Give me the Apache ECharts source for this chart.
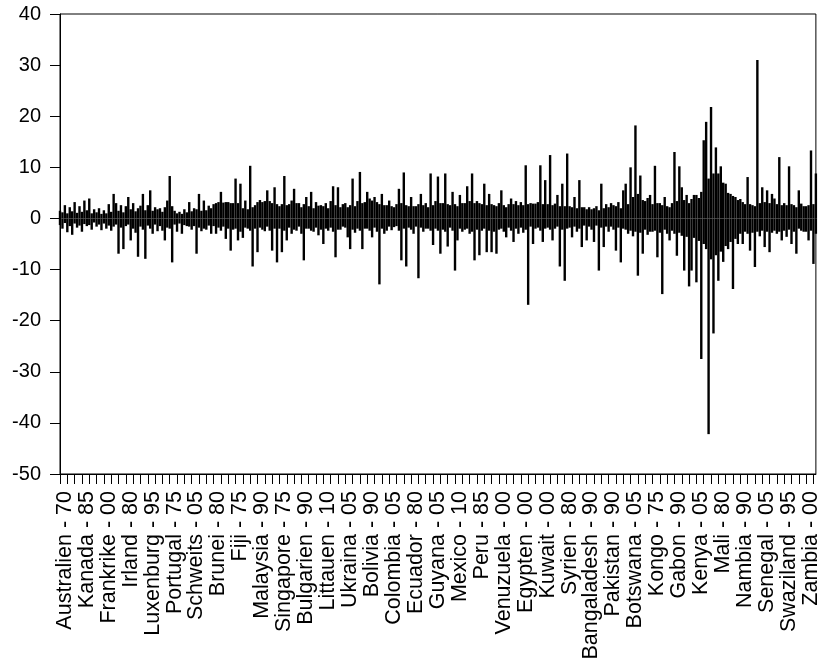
<!DOCTYPE html>
<html>
<head>
<meta charset="utf-8">
<script src="https://cdn.jsdelivr.net/npm/echarts@6/dist/echarts.min.js"></script>
<style>
html,body{margin:0;padding:0;background:#fff;}
#chart{width:822px;height:666px;}
</style>
</head>
<body>
<div id="chart"></div>
<script>
// Tick labels shown on the category axis (one every 9 bins)
const labels = ["Australien - 70","Kanada - 85","Frankrike - 00","Irland - 80","Luxenburg - 95","Portugal - 75","Schweits - 05","Brunei - 80","Fiji - 75","Malaysia - 90","Singapore - 75","Bulgarien - 90","Littauen - 10","Ukraina - 05","Bolivia - 90","Colombia - 05","Ecuador - 80","Guyana - 05","Mexico - 10","Peru - 85","Venuzuela - 00","Egypten - 00","Kuwait - 00","Syrien - 80","Bangaladesh - 90","Pakistan - 90","Botswana - 05","Kongo - 75","Gabon - 90","Kenya - 05","Mali - 80","Nambia - 90","Senegal - 05","Swaziland - 95","Zambia - 00"];

const upper = [
1.5,1.2,2.6,1.0,2.2,1.4,3.2,1.1,2.4,
1.3,3.5,1.6,3.9,1.0,1.8,1.2,2.0,0.9,
1.6,1.0,2.8,1.3,4.8,3.0,1.5,2.6,1.2,
2.4,4.2,1.8,3.0,1.4,2.0,2.5,4.8,1.6,
2.6,5.5,1.5,2.2,1.8,2.0,1.3,2.2,3.5,
8.3,2.4,1.5,1.0,1.3,0.9,1.8,1.2,3.2,
1.4,2.0,1.8,4.8,1.5,3.5,1.6,2.5,2.0,
2.8,3.0,3.2,5.2,3.1,3.2,3.2,3.0,3.0,
7.8,3.0,6.8,2.0,3.5,1.8,10.3,2.2,2.6,
3.2,3.6,3.2,3.4,5.5,3.4,3.0,6.1,2.8,
2.4,2.8,8.3,2.6,2.8,3.5,5.8,3.0,3.0,
2.2,2.8,4.2,2.4,5.2,2.0,3.2,2.5,2.6,
2.4,3.0,2.0,3.4,6.3,2.6,6.1,2.2,2.8,
3.0,2.2,2.6,7.8,2.4,3.4,9.1,3.0,3.2,
5.2,3.9,3.5,4.2,3.2,2.8,4.8,2.6,2.6,
3.5,2.4,2.2,2.8,5.8,3.0,9.0,2.6,2.4,
4.2,2.4,2.4,2.8,4.8,2.6,3.0,2.2,8.8,
2.6,3.4,8.2,3.0,3.0,8.8,2.8,2.6,5.2,
2.8,2.4,4.6,3.0,3.0,6.3,3.4,8.8,3.0,
3.4,3.0,2.8,6.8,2.6,4.8,2.8,2.6,2.4,
3.0,5.5,2.6,2.2,2.8,3.9,2.8,3.4,2.6,
3.2,2.6,10.4,2.8,3.0,2.9,2.9,3.2,10.4,
2.8,7.5,2.8,12.4,2.6,2.9,4.6,2.4,6.8,
2.4,12.7,2.4,2.2,4.2,2.0,7.5,2.2,2.2,
1.8,2.2,1.8,2.0,2.4,1.6,6.8,2.0,2.8,
2.2,3.0,2.6,2.4,3.2,2.0,5.5,6.8,2.8,
10.0,4.2,18.2,4.8,8.4,3.6,3.4,4.0,4.6,
2.8,10.3,3.0,3.0,2.6,4.2,2.4,2.2,3.0,
13.0,3.4,10.2,6.1,3.6,4.6,3.0,3.8,4.6,
4.6,4.0,5.2,15.3,18.9,7.8,21.8,8.8,13.9,
8.8,10.2,7.0,6.8,5.0,4.8,4.4,4.2,3.6,
3.8,3.2,2.8,8.1,2.8,2.6,2.4,31.0,3.0,
6.1,3.2,5.5,3.0,4.8,3.9,2.8,12.0,2.6,
3.0,2.6,10.2,2.8,2.6,2.2,5.5,2.9,2.4,
2.4,2.6,13.3,2.8,8.8
];

const lower = [
-1.3,-2.0,-0.9,-2.7,-1.5,-3.2,-1.0,-1.8,-1.4,
-2.6,-1.1,-1.5,-1.3,-2.2,-0.8,-1.6,-1.2,-2.3,
-1.0,-2.0,-1.4,-2.4,-1.6,-1.2,-6.9,-1.8,-6.0,
-1.5,-1.2,-4.3,-2.0,-2.8,-7.5,-1.6,-2.2,-7.9,
-1.4,-2.0,-3.0,-1.2,-2.5,-1.5,-2.4,-4.3,-1.8,
-2.0,-8.6,-1.2,-2.6,-1.0,-3.0,-1.3,-1.5,-1.6,
-2.2,-1.5,-6.9,-1.8,-2.5,-2.0,-2.2,-1.4,-3.0,
-1.5,-3.0,-1.8,-2.4,-1.6,-4.0,-2.0,-6.3,-2.2,
-2.0,-4.3,-2.6,-3.8,-1.8,-2.0,-2.4,-9.4,-2.0,
-6.6,-1.8,-2.2,-2.5,-1.6,-2.4,-6.3,-2.0,-8.6,
-2.0,-6.6,-2.4,-4.3,-1.8,-3.0,-2.2,-2.4,-1.6,
-3.0,-8.2,-2.0,-2.0,-2.4,-2.6,-1.8,-3.3,-2.2,
-5.0,-2.0,-2.4,-1.8,-2.6,-7.6,-2.2,-2.2,-1.6,
-1.8,-3.7,-6.0,-2.2,-2.8,-2.0,-2.4,-6.0,-2.0,
-2.0,-2.4,-3.7,-1.8,-2.6,-12.9,-2.0,-3.0,-2.4,
-1.6,-2.3,-1.7,-1.5,-2.4,-8.2,-2.0,-9.4,-1.8,
-2.2,-3.0,-1.6,-11.7,-1.8,-2.6,-2.0,-2.0,-2.4,
-5.2,-2.0,-2.4,-6.9,-2.2,-2.6,-5.5,-1.8,-2.4,
-10.2,-4.3,-2.0,-2.6,-2.2,-2.0,-3.0,-2.6,-8.2,
-2.2,-7.2,-2.4,-2.0,-6.6,-2.4,-6.6,-2.6,-6.9,
-2.2,-2.0,-2.6,-3.7,-1.8,-2.4,-4.6,-2.0,-3.0,
-1.8,-2.8,-2.2,-16.9,-1.6,-5.0,-2.0,-1.8,-2.4,
-4.6,-2.0,-1.8,-2.2,-4.3,-2.0,-1.6,-9.4,-2.2,
-12.2,-2.0,-1.8,-3.7,-1.6,-2.6,-2.0,-5.6,-1.4,
-4.3,-1.6,-2.2,-4.6,-1.4,-10.2,-1.8,-5.6,-1.6,
-2.6,-1.6,-2.2,-6.3,-1.8,-8.6,-2.0,-2.2,-3.0,
-2.4,-3.5,-2.6,-11.2,-2.8,-6.9,-2.2,-3.2,-2.6,
-2.6,-2.4,-7.6,-2.8,-14.8,-2.2,-3.0,-4.3,-2.4,
-3.0,-7.3,-2.8,-3.4,-10.2,-3.6,-13.3,-10.2,-3.8,
-12.5,-4.4,-27.5,-5.0,-6.0,-42.2,-8.0,-22.5,-7.2,
-12.2,-6.5,-8.5,-5.4,-6.0,-4.6,-13.8,-4.0,-5.0,
-3.0,-5.0,-2.6,-3.0,-6.3,-2.8,-9.5,-2.6,-3.5,
-2.4,-5.6,-2.6,-6.6,-2.8,-2.4,-3.0,-2.6,-4.3,
-2.4,-3.6,-2.2,-5.0,-2.6,-6.9,-2.0,-2.4,-2.6,
-2.6,-4.3,-2.4,-8.9,-3.0
];

// y-axis scale
const yMin = -50, yMax = 40, yStep = 10;

const categories = upper.map((v, i) => (i % 9 === 2 ? (labels[(i - 2) / 9] || '') : ''));

const chart = echarts.init(document.getElementById('chart'), null, {renderer: 'canvas'});
const font = 'Liberation Sans';
const barStyle = {type: 'bar', barWidth: 2.4, barGap: '-100%', itemStyle: {color: '#000'}, silent: true};
chart.setOption({
  animation: false,
  backgroundColor: '#fff',
  grid: {
    left: 60, right: -1, top: 14, bottom: 192,
    show: true, borderColor: '#000', borderWidth: 1, backgroundColor: 'transparent'
  },
  xAxis: {
    type: 'category',
    data: categories,
    boundaryGap: false,
    axisLine: {onZero: false, lineStyle: {color: '#000', width: 1}},
    axisTick: {show: true, length: 10, inside: false, interval: (i) => i % 3 === 0, lineStyle: {color: '#000'}},
    axisLabel: {
      interval: (i) => i % 9 === 2,
      rotate: 90, margin: 17,
      color: '#000', fontFamily: font, fontSize: 21.5
    },
    splitLine: {show: false}
  },
  yAxis: {
    type: 'value',
    min: yMin, max: yMax, interval: yStep,
    axisLine: {show: true, lineStyle: {color: '#000', width: 1}},
    axisTick: {show: true, length: 10, lineStyle: {color: '#000'}},
    axisLabel: {color: '#000', fontFamily: font, fontSize: 20, margin: 19},
    splitLine: {show: false}
  },
  series: [
    Object.assign({name: 'upper', data: upper}, barStyle),
    Object.assign({name: 'lower', data: lower}, barStyle)
  ]
});
</script>
</body>
</html>
